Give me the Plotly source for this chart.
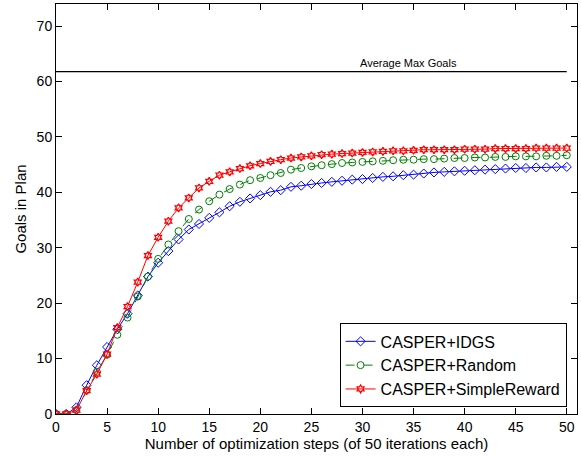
import plotly.graph_objects as go

steps = list(range(51))
idgs = [0, 0, 1.2, 5.2, 8.8, 12.1, 15.3, 18.1, 21.4, 24.8,
        27.3, 29.4, 31.5, 33.3, 34.3, 35.4, 36.4, 37.5, 38.3, 38.9,
        39.5, 40.1, 40.4, 41.0, 41.2, 41.5, 41.7, 41.9, 42.1, 42.3,
        42.4, 42.6, 42.8, 42.9, 43.1, 43.2, 43.4, 43.6, 43.7, 43.8,
        43.9, 44.0, 44.1, 44.2, 44.3, 44.4, 44.4, 44.5, 44.5, 44.6, 44.6]
rand = [0, 0, 0.7, 4.3, 7.6, 10.7, 14.3, 17.4, 21.2, 24.8,
        28.0, 30.6, 33.0, 35.2, 36.9, 38.4, 39.6, 40.6, 41.4, 42.2,
        42.6, 43.1, 43.5, 44.1, 44.4, 44.7, 44.9, 45.1, 45.3, 45.4,
        45.5, 45.6, 45.7, 45.8, 45.9, 45.9, 46.0, 46.0, 46.1, 46.2,
        46.2, 46.3, 46.3, 46.4, 46.4, 46.5, 46.5, 46.5, 46.6, 46.6, 46.7]
simple = [0, 0, 0.7, 4.2, 7.2, 10.8, 15.6, 19.4, 23.8, 28.6,
          31.9, 34.8, 37.2, 39.0, 40.8, 42.0, 43.1, 43.7, 44.3, 44.8,
          45.2, 45.6, 45.9, 46.2, 46.4, 46.6, 46.8, 46.9, 47.0, 47.1,
          47.2, 47.3, 47.4, 47.5, 47.5, 47.6, 47.7, 47.7, 47.7, 47.7,
          47.8, 47.8, 47.8, 47.9, 47.9, 47.9, 47.9, 48.0, 48.0, 48.0, 48.0]
avg_max_x = [0, 50]
avg_max_y = [61.8, 61.8]
avg_label = "Average Max Goals"

FONT = "Liberation Sans, Arial, Helvetica, sans-serif"

fig = go.Figure()
fig.add_trace(go.Scatter(x=avg_max_x, y=avg_max_y, mode="lines",
                         line=dict(color="black", width=1.3), showlegend=False,
                         hoverinfo="skip"))
fig.add_trace(go.Scatter(x=steps, y=idgs, mode="lines+markers", name="CASPER+IDGS",
                         line=dict(color="#0000ff", width=1),
                         marker=dict(symbol="diamond-open", size=7, color="#0000ff",
                                     line=dict(width=1))))
fig.add_trace(go.Scatter(x=steps, y=rand, mode="lines+markers", name="CASPER+Random",
                         line=dict(color="#008000", width=1, dash="dash"),
                         marker=dict(symbol="circle-open", size=7, color="#008000",
                                     line=dict(width=1))))
fig.add_trace(go.Scatter(x=steps, y=simple, mode="lines+markers", name="CASPER+SimpleReward",
                         line=dict(color="#ff0000", width=1),
                         marker=dict(symbol="hexagram-open", size=6, color="#ff0000",
                                     line=dict(width=1.3))))

fig.add_annotation(x=34.5, y=61.8, yshift=9, text=avg_label, showarrow=False,
                   font=dict(family=FONT, size=11, color="black"))

axis_common = dict(showline=True, linecolor="black", linewidth=1, mirror="allticks",
                   ticks="inside", ticklen=6, tickcolor="black", showgrid=False,
                   zeroline=False, tickfont=dict(family=FONT, size=14, color="black"))

fig.update_xaxes(range=[0, 51], tickvals=list(range(0, 51, 5)),
                 title=dict(text="Number of optimization steps (of 50 iterations each)",
                            font=dict(family=FONT, size=15, color="black"), standoff=2),
                 **axis_common)
fig.update_yaxes(range=[0, 74], tickvals=list(range(0, 71, 10)),
                 title=dict(text="Goals in Plan",
                            font=dict(family=FONT, size=15, color="black"), standoff=6),
                 **axis_common)

fig.update_layout(width=581, height=457, margin=dict(l=56, r=4, t=4, b=43),
                  plot_bgcolor="white", paper_bgcolor="white",
                  font=dict(family=FONT, color="black"),
                  legend=dict(x=0.98, y=0.016, xanchor="right", yanchor="bottom",
                              bgcolor="white", bordercolor="black", borderwidth=1,
                              font=dict(family=FONT, size=16, color="black"),
                              itemwidth=30, tracegroupgap=0))

fig.write_html("out.html", config={"displayModeBar": False},
               post_script="document.body.style.margin='0';document.body.style.overflow='hidden';")
